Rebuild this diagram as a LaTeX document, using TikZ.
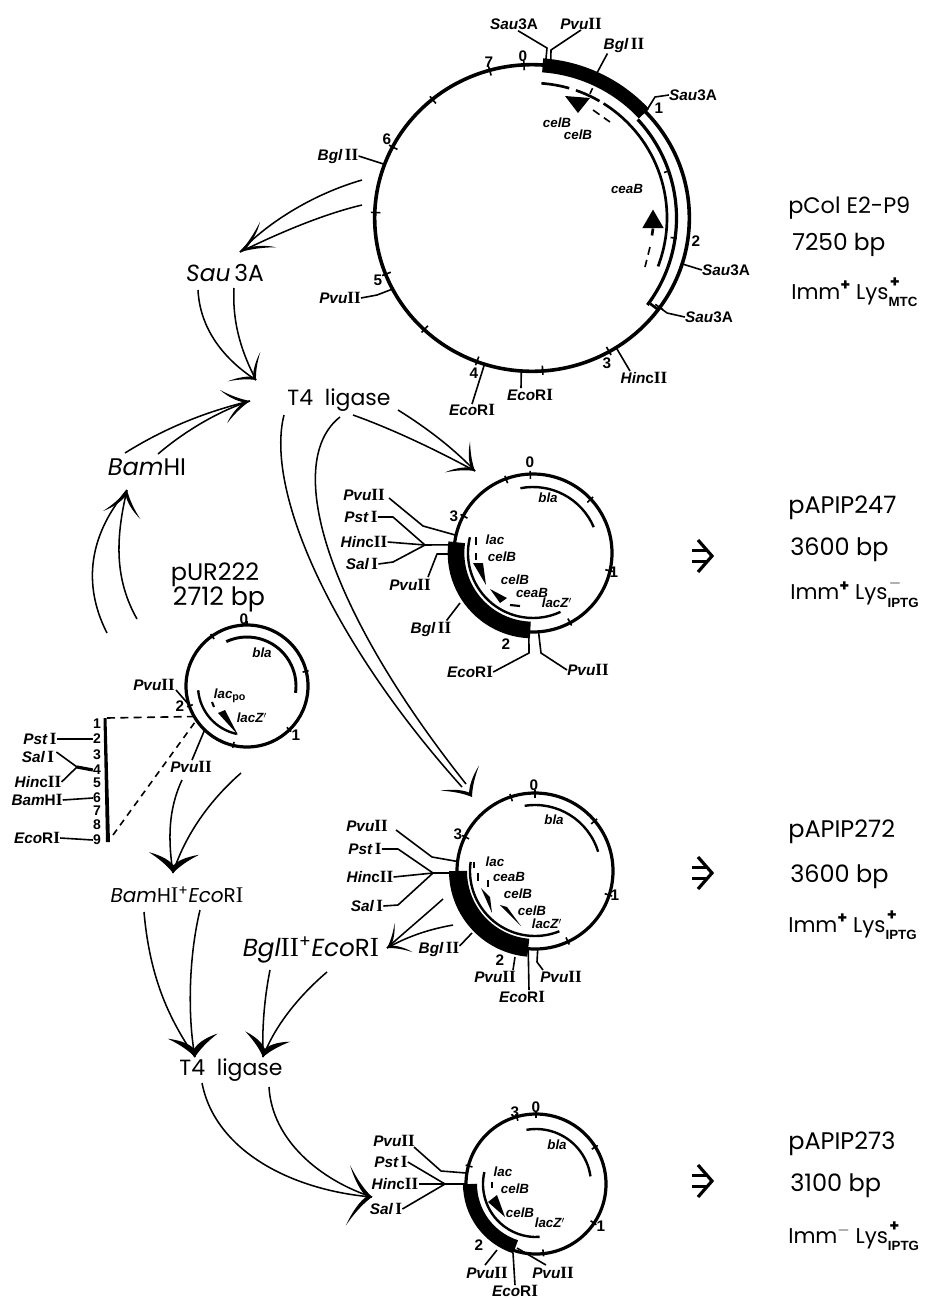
\documentclass[tikz,border=0pt]{standalone}
\usepackage{fontspec}
\usetikzlibrary{calc,shapes.geometric}
\setmainfont{Liberation Sans}
\newfontfamily\bigf{Poppins}
\newfontfamily\labf{Liberation Sans}
\newfontfamily\romf[Scale=1.12]{Liberation Serif}
\newcommand{\RII}{{\upshape\romf\bfseries II}}
\newcommand{\RI}{{\upshape\romf\bfseries I}}
\newcommand{\BII}{{\upshape\romf II}}
\newcommand{\BI}{{\upshape\romf I}}
\newcommand{\up}[1]{{\upshape #1}}
\newcommand{\imm}[3]{Imm\raisebox{6.5pt}{\fontsize{12}{12}\selectfont\bfseries #1}\ Lys\rlap{\hspace{1pt}\raisebox{9pt}{\fontsize{12}{12}\selectfont\bfseries #2}}\raisebox{-5.5pt}{\fontsize{10}{10}\selectfont\labf\bfseries #3}}
\tikzset{
 ring/.style={draw,circle,line width=2.4pt,inner sep=0pt,outer sep=0pt},
 lbl/.style={font=\labf\fontsize{11.5}{11.5}\selectfont\bfseries\itshape,inner sep=0pt},
 gene/.style={font=\labf\fontsize{10}{10}\selectfont\bfseries\itshape,inner sep=0pt},
 num/.style={font=\labf\fontsize{11.5}{11.5}\selectfont\bfseries,inner sep=0pt},
 mnum/.style={font=\labf\fontsize{10.5}{10.5}\selectfont\bfseries,inner sep=0pt},
 big/.style={font=\bigf\fontsize{#1}{#1}\selectfont,inner sep=0pt},
 big/.default=16.5,
 side/.style={font=\bigf\fontsize{#1}{#1}\selectfont,inner sep=0pt,anchor=west},
 side/.default=17.5,
 lead/.style={line width=1.2pt,line join=round},
 tk/.style={line width=1.2pt},
 garc/.style={line width=1.8pt},
 band/.style={line width=10.5pt},
 flow/.style={line width=1.15pt},
 dsh/.style={line width=1.2pt,dash pattern=on 6pt off 4pt},
 hd/.pic={\fill (0,0) .. controls (-10,4.5) and (-20,11) .. (-30,20) .. controls (-23,10) and (-14,3) .. (-7,0) .. controls (-14,-3) and (-23,-10) .. (-30,-20) .. controls (-20,-11) and (-10,-4.5) .. (0,0) -- cycle;},
 hdk/.pic={\fill (0,0) .. controls (-10,4.5) and (-20,11) .. (-30,20) .. controls (-25,8) and (-18,3) .. (-12,0) .. controls (-18,-3) and (-25,-8) .. (-30,-20) .. controls (-20,-11) and (-10,-4.5) .. (0,0) -- cycle;},
 sm/.pic={\draw[line width=2.4pt,line join=miter] (-15,16) -- (-1,0) -- (-15,-16);
   \draw[line width=2pt] (-21,5.5) -- (-7,5.5) (-21,-5.5) -- (-7,-5.5);},
}
\newcommand{\arcg}[5][garc]{\draw[#1] ([shift={(#4:#3)}]#2.center) arc[start angle=#4,end angle=#5,radius=#3];}
\newcommand{\lab}[4][lbl]{\node[#1] (#2) at (#3) {#4};}
\newcommand{\ticks}[2]{\foreach \a in {#2} {\draw[tk] ($(#1.center)!0.94!(#1.\a)$) -- ($(#1.center)!1.04!(#1.\a)$);}}
\begin{document}
\begin{tikzpicture}[x=0.75pt,y=0.75pt]
\useasboundingbox (0,0) rectangle (929,-1299);

% ---------- pColE2-P9
\node[draw,ellipse,line width=2.7pt,inner sep=0pt,outer sep=0pt,minimum width=236pt,minimum height=230pt] (A) at (532,-218) {};
\arcg[band]{A}{153}{86}{43}
\arcg[line width=2.4pt]{A}{144.5}{43}{-37}
\draw[line width=2pt] (A.-36) -- ++(-8,6);
\arcg[line width=2pt]{A}{135}{86}{74}
\arcg[line width=2pt]{A}{135}{71}{60}
\arcg[line width=2pt]{A}{135}{58}{-21}
\foreach \a in {93,106,130,153,178,201,226,249,274,300,325}{\draw[tk] ($(A.center)!0.965!(A.\a)$) -- ($(A.center)!1.025!(A.\a)$);}
\foreach \a in {65,19,-8}{\draw[tk] ($(A.center)!0.89!(A.\a)$) -- ($(A.center)!0.93!(A.\a)$);}
\node[fill,isosceles triangle,isosceles triangle apex angle=60,shape border rotate=90,inner sep=0pt,minimum width=16pt,minimum height=14pt] (ceaBarrow) at (653,-222) {};
\draw[line width=2pt] (ceaBarrow.south) -- ++(-1,-7);
\coordinate (ceaDashA) at (650,-247); \coordinate (ceaDashB) at (645,-267);
\draw[dsh] (ceaDashA) -- (ceaDashB);
\coordinate (celTri) at (565,-96);
\fill (celTri) -- (590,-98) -- (578,-113) -- cycle;
\coordinate (celDashA) at (593,-110); \coordinate (celDashB) at (610,-122);
\draw[dsh] (celDashA) -- (celDashB);

\lab{a1}{514,-24}{Sau\up{3A}}
\lab{a2}{581,-24}{Pvu\RII}
\lab{a3}{624,-45}{Bgl\,\RII}
\lab{a4}{693,-95}{Sau\up{3A}}
\lab{a5}{726,-270}{Sau\up{3A}}
\lab{a6}{709,-317}{Sau\up{3A}}
\lab{a7}{644,-378}{Hin\up{c}\RII}
\lab{a8}{530,-395}{Eco\up{R}\RI}
\lab{a9}{472,-410}{Eco\up{R}\RI}
\lab{a10}{340,-298}{Pvu\RII}
\lab{a11}{338,-156}{Bgl\,\RII}
\lab[gene]{ag1}{627,-189}{ceaB}
\lab[gene]{ag2}{557,-123}{celB}
\lab[gene]{ag3}{578,-135}{celB}
\lab[num]{an0}{523,-56}{0}\lab[num]{an7}{489,-62}{7}\lab[num]{an6}{387,-139}{6}
\lab[num]{an5}{378,-280}{5}\lab[num]{an4}{474,-373}{4}\lab[num]{an3}{607,-363}{3}
\lab[num]{an2}{696,-241}{2}\lab[num]{an1}{659,-108}{1}
\draw[lead] (a1.south) ++(4,-1) -- (547,-48) -- (A.85);
\draw[lead] (a2.south) -- (551,-50) -- (A.83);
\draw[lead] (a3.south west) ++(4,-1) -- (A.66);
\draw[lead] (a4.west) -- (655,-97) -- (A.43);
\draw[lead] (a5.west) -- (A.-17);
\draw[lead] (a6.west) -- (667,-313) -- (A.-35);
\draw[lead] (a7.north) ++(-14,1) -- (A.-57);
\draw[lead] (a8.north) ++(-9,1) -- (A.-94);
\draw[lead] (a9.north) -- (A.-108);
\draw[lead] (a10.east) -- (377,-295) -- (A.207);
\draw[lead] (a11.east) -- (A.160);

% ---------- pAPIP247
\node[ring,minimum size=118.5pt] (B) at (533,-553) {};
\arcg[line width=12.5pt]{B}{77}{172}{268}
\arcg{B}{65}{166}{295}
\arcg{B}{66}{101}{23}
\ticks{B}{92,110,152,43,-13,-62}
\fill (473,-563) -- (483,-563) -- (486,-585) -- cycle;
\fill (490,-589) -- (507,-598) -- (500,-603) -- cycle;
\draw[line width=1.6pt] (510,-605) -- (520,-606);
\draw[line width=1.8pt] (476,-537) -- (476,-545) (476,-553) -- (476,-560);
\lab{b1}{364,-495}{Pvu\RII}
\lab{b2}{361,-517}{Pst\,\RI}
\lab{b3}{364,-542}{Hin\up{c}\RII}
\lab{b4}{362,-564}{Sal\,\RI}
\lab{b5}{410,-585}{Pvu\RII}
\lab{b6}{431,-629}{Bgl\,\RII}
\lab{b7}{470,-672}{Eco\up{R}\RI}
\lab{b8}{588,-670}{Pvu\RII}
\lab[gene]{bg1}{548,-498}{bla}
\lab[gene]{bg2}{495,-540}{lac}
\lab[gene]{bg3}{502,-557}{celB}
\lab[gene]{bg4}{515,-580}{celB}
\lab[gene]{bg5}{532,-593}{ceaB}
\lab[gene]{bg6}{557,-603}{lacZ$'$}
\lab[num]{bn0}{530,-462}{0}\lab[num]{bn1}{614,-572}{1}\lab[num]{bn2}{506,-644}{2}\lab[num]{bn3}{454,-516}{3}
\coordinate (jB) at (425,-545);
\draw[lead] (b1.east) ++(4,-3) -- (423,-526) -- (B.167);
\draw[lead] (b2.east) -- (393,-517) -- (jB) -- (B.174);
\draw[lead] (b3.east) -- (jB);
\draw[lead] (b4.east) -- (393,-562) -- (jB);
\draw[lead] (b5.north) ++(18,2) -- (437,-554) -- (450,-554);
\draw[lead] (b6.north east) ++(-5,1) -- (460,-603);
\draw[lead] (b7.east) -- (529,-653) -- (B.-93);
\draw[lead] (b8.west) -- (541,-653) -- (B.-86);

% ---------- pUR222
\node[ring,minimum size=91.5pt] (P) at (247,-686) {};
\arcg{P}{49}{185}{258}
\arcg[line width=2.2pt]{P}{49}{115}{-8}
\ticks{P}{125,14,-46,-103,199}
\draw[tk] (P.90) -- ($(P.center)!1.06!(P.90)$);
\fill (218,-713) -- (225,-710) -- (238,-735) -- cycle;
\draw[line width=1.6pt] (212,-702) -- (214,-707);
\lab[big=18]{pur1}{215,-575}{pUR222}
\lab[big=19]{pur2}{219,-599}{2712 bp}
\lab{p1}{154,-685}{Pvu\RII}
\lab{p2}{191,-767}{Pvu\RII}
\lab[gene]{pg1}{262,-653}{bla}
\lab[gene]{pg2}{230,-696}{lac$_{\mbox{\fontsize{8}{8}\selectfont\upshape po}}$}
\lab[gene]{pg3}{252,-718}{lacZ$'$}
\lab[num]{pn0}{244,-619}{0}\lab[num]{pn1}{296,-735}{1}\lab[num]{pn2}{180,-706}{2}
\draw[lead] (p1.east) ++(1,-5) -- (P.198);
\draw[lead] (p2.north) ++(1,1) -- (P.226);

% ---------- linear map
\coordinate (mapTop) at (105,-718); \coordinate (mapBot) at (108,-842);
\fill (103.5,-718) -- (106.5,-718) -- (110,-842) -- (106,-842) -- cycle;
\foreach \n/\y in {1/724,2/739,3/755,4/770,5/783,6/798,7/811,8/825,9/840}{\node[mnum] (m\n) at (97,-\y) {\n};}
\lab{m1a}{40,-739}{Pst\,\RI}
\lab{m2a}{38,-757}{Sal\,\RI}
\lab{m3a}{38,-782}{Hin\up{c}\RII}
\lab{m4a}{37,-800}{Bam\up{H}\RI}
\lab{m5a}{37,-838}{Eco\up{R}\RI}
\coordinate (jM) at (77,-767);
\draw[lead] (m1a.east) -- (m2.west);
\draw[lead] (m2a.east) ++(2,5) -- (jM);
\draw[lead] (m3a.east) -- (jM);
\draw[line width=2.4pt] (jM) -- (m4.west);
\draw[lead] (m4a.east) -- (m6.west);
\draw[lead] (m5a.east) -- (m9.west);
\draw[dsh] (mapTop) ++(2,0) -- (P.210);
\draw[line width=1.2pt,dash pattern=on 5pt off 4pt] (113,-835) -- (P.214);

% ---------- pAPIP272
\node[ring,minimum size=117pt] (C) at (535,-871) {};
\arcg[line width=13.5pt]{C}{77}{180}{265}
\arcg{C}{65}{172}{292}
\arcg{C}{66}{99}{17}
\ticks{C}{90,108,154,40,-18,-65}
\fill (481,-888) -- (490,-897) -- (492,-913) -- cycle;
\fill (500,-905) -- (507,-907) -- (521,-926) -- cycle;
\draw[line width=1.8pt] (478,-873) -- (478,-881) (488,-880) -- (488,-887) (474,-862) -- (474,-868);
\lab{c1}{367,-826}{Pvu\RII}
\lab{c2}{365,-849}{Pst\,\RI}
\lab{c3}{370,-877}{Hin\up{c}\RII}
\lab{c4}{367,-906}{Sal\,\RI}
\lab{c5}{439,-949}{Bgl\,\RII}
\lab{c6}{495,-977}{Pvu\RII}
\lab{c7}{561,-977}{Pvu\RII}
\lab{c8}{522,-997}{Eco\up{R}\RI}
\lab[gene]{cg1}{554,-820}{bla}
\lab[gene]{cg2}{495,-862}{lac}
\lab[gene]{cg3}{509,-877}{ceaB}
\lab[gene]{cg4}{518,-894}{celB}
\lab[gene]{cg5}{532,-911}{celB}
\lab[gene]{cg6}{547,-924}{lacZ$'$}
\lab[num]{cn0}{534,-785}{0}\lab[num]{cn1}{615,-895}{1}\lab[num]{cn2}{500,-960}{2}\lab[num]{cn3}{458,-834}{3}
\coordinate (jC) at (433,-873);
\draw[lead] (c1.east) ++(8,-4) -- (432,-857) -- (C.173);
\draw[lead] (c2.east) -- (398,-849) -- (jC) -- (458,-873);
\draw[lead] (c3.east) -- (jC);
\draw[lead] (c4.east) -- (398,-905) -- (jC);
\draw[lead] (c5.east) ++(0,3) -- (472,-933);
\draw[lead] (c6.north) ++(18,1) -- (515,-957);
\draw[lead] (c8.north) ++(7,1) -- (C.-95);
\draw[lead] (c7.north) ++(-18,1) -- (537,-962) -- (C.-88);

% ---------- pAPIP273
\node[ring,minimum size=105pt] (D) at (536,-1184) {};
\arcg[line width=10.5pt]{D}{66}{180}{252}
\arcg{D}{53}{167}{274}
\arcg{D}{55}{100}{8}
\ticks{D}{90,106,165,32,-34,-84}
\fill (488,-1202) -- (497,-1195) -- (505,-1217) -- cycle;
\draw[line width=1.8pt] (492,-1182) -- (492,-1188);
\lab{d1}{394,-1141}{Pvu\RII}
\lab{d2}{391,-1162}{Pst\,\RI}
\lab{d3}{395,-1184}{Hin\up{c}\RII}
\lab{d4}{386,-1209}{Sal\,\RI}
\lab{d5}{487,-1273}{Pvu\RII}
\lab{d6}{553,-1273}{Pvu\RII}
\lab{d7}{515,-1291}{Eco\up{R}\RI}
\lab[gene]{dg1}{557,-1145}{bla}
\lab[gene]{dg2}{503,-1172}{lac}
\lab[gene]{dg3}{515,-1189}{celB}
\lab[gene]{dg4}{520,-1213}{celB}
\lab[gene]{dg5}{550,-1223}{lacZ$'$}
\lab[num]{dn0}{536,-1107}{0}\lab[num]{dn1}{601,-1226}{1}\lab[num]{dn2}{479,-1245}{2}\lab[num]{dn3}{515,-1112}{3}
\coordinate (jD) at (445,-1184);
\draw[lead] (d1.east) ++(-1,-6) -- (441,-1171) -- (D.171);
\draw[lead] (d2.east) -- (jD) -- (D.180);
\draw[lead] (d3.east) -- (jD);
\draw[lead] (d4.east) -- (jD);
\draw[lead] (d5.north) ++(-2,2) -- (497,-1250);
\draw[lead] (d7.north) -- (513,-1253);
\draw[lead] (d6.north) ++(-7,2) -- (517,-1248);

% ---------- big labels
\lab[big=17.5]{sau}{225,-273}{\itshape Sau\upshape\,3A}
\lab[big=16.5]{lig1}{339,-400}{T4\ \ ligase}
\lab[big=18]{bam}{147,-467}{\itshape Bam\upshape HI}
\lab[big=15]{be}{177,-895}{\itshape Bam\upshape H\BI\textsuperscript{+}\itshape Eco\upshape R\BI}
\lab[big=18.5]{ge}{311,-950}{\itshape Bgl\upshape\BII\textsuperscript{+}\itshape Eco\upshape R\BI}
\lab[big=16.5]{lig2}{231,-1070}{T4\ \ ligase}

\node[side=16.8] (r1a) at (788,-208) {pCol E2-P9};
\node[side] (r1b) at (792,-245) {7250 bp};
\node[side=16] (r1c) at (791,-292) {\imm{+}{+}{MTC}};
\node[side=18] (r2a) at (788,-508) {pAPIP247};
\node[side=18] (r2b) at (790,-550) {3600 bp};
\node[side=16] (r2c) at (790,-593) {\imm{+}{$-$}{IPTG}};
\node[side=18] (r3a) at (788,-832) {pAPIP272};
\node[side=18] (r3b) at (790,-877) {3600 bp};
\node[side=16] (r3c) at (788,-925) {\imm{+}{+}{IPTG}};
\node[side=18] (r4a) at (788,-1144) {pAPIP273};
\node[side=18] (r4b) at (790,-1186) {3100 bp};
\node[side=16] (r4c) at (788,-1236) {\imm{$-$}{+}{IPTG}};

\coordinate (s1) at (713,-556); \coordinate (s2) at (713,-873); \coordinate (s3) at (713,-1181);
\pic at (s1) {sm}; \pic at (s2) {sm}; \pic at (s3) {sm};

% ---------- flow arrows
\coordinate (h1) at (240,-252);\coordinate (h2) at (256,-380);\coordinate (h3) at (250,-401);
\coordinate (h4) at (475,-471);\coordinate (h5) at (472,-797);\coordinate (h6) at (127,-490);
\coordinate (h7) at (173,-873);\coordinate (h8) at (195,-1057);\coordinate (h9) at (263,-1057);
\coordinate (h10) at (372,-1197);\coordinate (h11) at (387,-948);
\draw[flow] (362,-180) .. controls (310,-195) and (265,-225) .. (h1);
\draw[flow] (362,-205) .. controls (320,-215) and (275,-235) .. (h1);
\draw[flow] (198,-290) .. controls (200,-330) and (225,-360) .. (h2);
\draw[flow] (234,-288) .. controls (232,-325) and (243,-355) .. (h2);
\draw[flow] (125,-453) .. controls (165,-428) and (205,-412) .. (h3);
\draw[flow] (158,-454) .. controls (180,-435) and (215,-412) .. (h3);
\draw[flow] (353,-415) .. controls (395,-430) and (440,-452) .. (h4);
\draw[flow] (398,-410) .. controls (430,-430) and (455,-450) .. (h4);
\draw[flow] (284,-415) .. controls (265,-490) and (330,-640) .. (462,-787);
\draw[flow] (340,-417) .. controls (285,-460) and (320,-600) .. (466,-784);
\draw[flow] (107,-633) .. controls (85,-590) and (85,-540) .. (h6);
\draw[flow] (137,-619) .. controls (115,-580) and (115,-540) .. (h6);
\draw[flow] (182,-780) .. controls (168,-810) and (168,-840) .. (h7);
\draw[flow] (241,-773) .. controls (210,-800) and (185,-835) .. (h7);
\draw[flow] (144,-912) .. controls (150,-980) and (170,-1020) .. (h8);
\draw[flow] (200,-910) .. controls (188,-960) and (188,-1020) .. (h8);
\draw[flow] (270,-970) .. controls (264,-1000) and (262,-1030) .. (h9);
\draw[flow] (327,-972) .. controls (300,-995) and (275,-1025) .. (h9);
\draw[flow] (202,-1083) .. controls (215,-1150) and (290,-1190) .. (h10);
\draw[flow] (269,-1087) .. controls (272,-1140) and (320,-1180) .. (h10);
\draw[flow] (443,-899) .. controls (425,-915) and (405,-932) .. (h11);
\draw[flow] (453,-925) .. controls (425,-930) and (405,-938) .. (h11);
\pic[rotate=212,xscale=1.1,yscale=.75] at (h1) {hd};
\pic[rotate=312,xscale=.6,yscale=1.1] at (h2) {hd};
\pic[rotate=12,xscale=.9,yscale=.85] at (h3) {hd};
\pic[rotate=321,xscale=.75,yscale=1] at (h4) {hd};
\pic[rotate=303,xscale=.75,yscale=1.15] at (h5) {hd};
\pic[rotate=78,xscale=.85,yscale=.95] at (h6) {hd};
\pic[rotate=267,xscale=.65,yscale=1.25] at (h7) {hdk};
\pic[rotate=276,xscale=.7,yscale=1.25] at (h8) {hdk};
\pic[rotate=257,xscale=.7,yscale=1.15] at (h9) {hdk};
\pic[rotate=356,xscale=.8,yscale=1.5] at (h10) {hd};
\pic[rotate=212,xscale=.65,yscale=.85] at (h11) {hd};
\end{tikzpicture}
\end{document}
